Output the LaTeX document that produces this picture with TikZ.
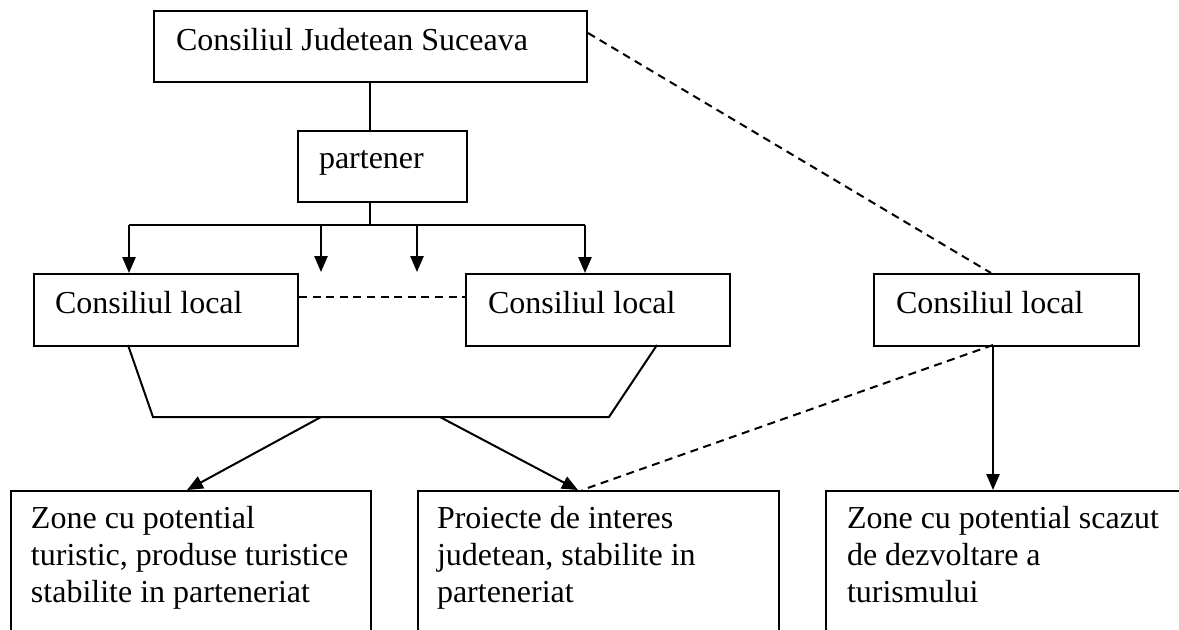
\documentclass[tikz,border=0pt]{standalone}
\usepackage{fontspec}
\setmainfont{Liberation Serif}
\usetikzlibrary{arrows.meta}
\begin{document}
\begin{tikzpicture}[x=0.5pt, y=-0.5pt, line width=1pt, >={Triangle[length=8pt,width=6.6pt]},
	box/.style={draw, anchor=north west, inner sep=0pt},
	txt/.style={anchor=base west, inner sep=0pt, align=left, font=\fontsize{16pt}{18.5pt}\selectfont},
	dsh/.style={dash pattern=on 4pt off 2.8pt}]
	\clip (0,0) rectangle (1179,629);
	\fill[white] (0,0) rectangle (1179,629);
	% boxes
	\node[box, minimum width=216.5pt, minimum height=35.5pt] (cjs) at (153,10) {};
	\node[box, minimum width=84.5pt, minimum height=35.5pt] (par) at (297,130) {};
	\node[box, minimum width=132pt, minimum height=36pt] (cl1) at (33,273) {};
	\node[box, minimum width=132pt, minimum height=36pt] (cl2) at (465,273) {};
	\node[box, minimum width=132.5pt, minimum height=36pt] (cl3) at (873,273) {};
	\node[box, minimum width=180pt, minimum height=100pt] (zt) at (10,490) {};
	\node[box, minimum width=180.5pt, minimum height=100pt] (pj) at (417,490) {};
	\node[box, minimum width=200pt, minimum height=100pt] (zs) at (825,490) {};
	% texts (base of a multi-line node = its last line)
	\node[txt] (cjs-t) at (175,50) {Consiliul Judetean Suceava};
	\node[txt] (par-t) at (318,168) {partener};
	\node[txt] (cl1-t) at (54,313) {Consiliul local};
	\node[txt] (cl2-t) at (487,313) {Consiliul local};
	\node[txt] (cl3-t) at (895,313) {Consiliul local};
	\node[txt] (zt-t) at (30,602) {Zone cu potential\\turistic, produse turistice\\stabilite in parteneriat};
	\node[txt] (pj-t) at (436,602) {Proiecte de interes\\judetean, stabilite in\\parteneriat};
	\node[txt] (zs-t) at (846,602) {Zone cu potential scazut\\de dezvoltare a\\turismului};
	% fork under partener
	\coordinate (fk) at (370,225);
	\coordinate (f1) at (129,225);
	\coordinate (f2) at (321,225);
	\coordinate (f3) at (417,225);
	\coordinate (f4) at (585,225);
	\draw (cjs.south -| fk) -- (par.north -| fk);
	\draw (par.south -| fk) -- (fk);
	\draw (f1) -- (f4);
	\draw[->] (f1) -- (f1 |- cl1.north);
	\draw[->] (f2) -- +(0,47);
	\draw[->] (f3) -- +(0,47);
	\draw[->] (f4) -- (f4 |- cl2.north);
	\draw[dsh] (cl1.east |- 0,297) -- (cl2.west |- 0,297);
	% dashed link to the right
	\coordinate (d1) at (991,273);
	\draw[dsh] (cjs.east |- 0,33) -- (d1);
	% joining of the two councils
	\coordinate (t1) at (128,345);
	\coordinate (t2) at (153,417);
	\coordinate (t3) at (609,417);
	\coordinate (t4) at (657,345);
	\draw (t1) -- (t2) -- (t3) -- (t4);
	\coordinate (a1) at (321,417);
	\coordinate (a2) at (440,417);
	\coordinate (e1) at (187,490);
	\coordinate (e2) at (578,490);
	\draw[->] (a1) -- (e1);
	\draw[->] (a2) -- (e2);
	\coordinate (c3) at (993,345);
	\draw[dsh] (c3) -- (582,490);
	\draw[->] (c3) -- (c3 |- zs.north);
\end{tikzpicture}
\end{document}
